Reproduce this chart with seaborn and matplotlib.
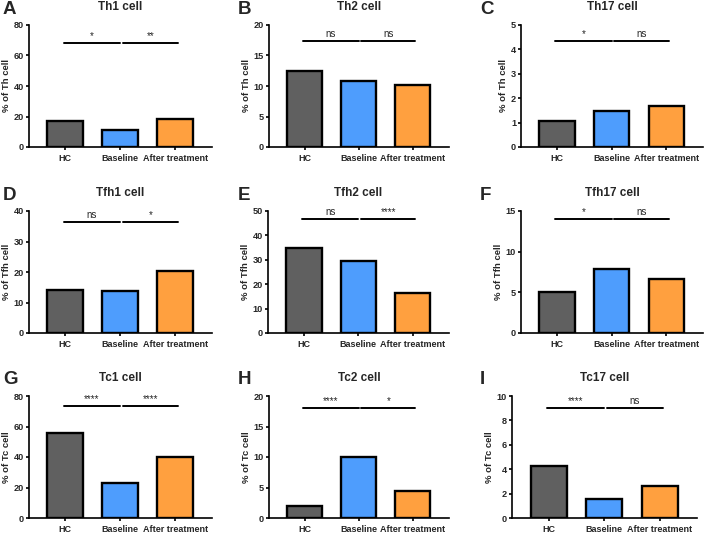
import matplotlib
matplotlib.use("Agg")
import matplotlib.pyplot as plt
import seaborn as sns
import pandas as pd

sns.set_theme(style="ticks")
plt.rcParams['font.family'] = ['Liberation Sans', 'DejaVu Sans']

categories = ["HC", "Baseline", "After treatment"]
colors = ["#606060", "#4e9dfd", "#ffa03f"]

titles = ["Th1 cell", "Th2 cell", "Th17 cell",
          "Tfh1 cell", "Tfh2 cell", "Tfh17 cell",
          "Tc1 cell", "Tc2 cell", "Tc17 cell"]
letters = ["A", "B", "C", "D", "E", "F", "G", "H", "I"]
ylabels = ["% of Th cell"] * 3 + ["% of Tfh cell"] * 3 + ["% of Tc cell"] * 3

th1 = [16.8, 11.3, 18.1]
th2 = [12.5, 10.8, 10.1]
th17 = [1.05, 1.47, 1.70]
tfh1 = [14.1, 13.9, 20.3]
tfh2 = [34.8, 29.6, 16.3]
tfh17 = [5.0, 7.9, 6.65]
tc1 = [55.8, 22.8, 39.8]
tc2 = [2.0, 10.0, 4.35]
tc17 = [4.28, 1.52, 2.63]
values = [th1, th2, th17, tfh1, tfh2, tfh17, tc1, tc2, tc17]

ymax = [80, 20, 5, 40, 50, 15, 80, 20, 10]
ystep = [20, 5, 1, 10, 10, 5, 20, 5, 2]

sig_left = ["*", "ns", "*", "ns", "ns", "*", "****", "****", "****"]
sig_right = ["**", "ns", "ns", "*", "****", "ns", "****", "*", "ns"]
sig_y = [68.4, 17.4, 4.34, 36.5, 46.8, 14.06, 73.5, 18.1, 9.05]

W, H = 708, 533
fig = plt.figure(figsize=(W / 100, H / 100), dpi=100)

rows = [(25, 147), (211, 333), (396, 518)]
cols = [[(29, 212), (269, 449), (521, 703)],
        [(29, 212), (268, 449), (521, 703)],
        [(29, 212), (269, 449), (512, 697)]]
letter_x = [3, 238, 480]

for i in range(9):
    r, c = divmod(i, 3)
    top, bot = rows[r]
    left, right = cols[r][c]
    ax = fig.add_axes([left / W, 1 - bot / H, (right - left) / W, (bot - top) / H])
    df = pd.DataFrame({"group": categories, "value": values[i]})
    sns.barplot(data=df, x="group", y="value", hue="group", order=categories,
                hue_order=categories, palette=colors, width=0.65, saturation=1,
                edgecolor="black", linewidth=1.7, legend=False, ax=ax)
    ax.set_xlim(-0.66, 2.67)
    ax.set_ylim(0, ymax[i])
    ax.set_yticks(list(range(0, ymax[i] + 1, ystep[i])))
    ax.set_xlabel("")
    ax.set_ylabel(ylabels[i], fontsize=6.8, fontweight="bold", labelpad=2)
    for sp in ["top", "right"]:
        ax.spines[sp].set_visible(False)
    for sp in ["left", "bottom"]:
        ax.spines[sp].set_linewidth(1.2)
        ax.spines[sp].set_color("black")
    ax.tick_params(axis="y", length=2.5, width=1.2, color="black",
                   labelsize=6.6, pad=1)
    ax.tick_params(axis="x", length=2.5, width=1.2, color="black",
                   labelsize=6.5, pad=2.5)
    for lab in ax.get_xticklabels() + ax.get_yticklabels():
        lab.set_fontweight("bold")
    ax.set_title(titles[i], fontsize=8.5, fontweight="bold", pad=11)
    # significance bars
    y = sig_y[i]
    ax.plot([-0.03, 1.0], [y, y], color="black", lw=1.4, clip_on=False)
    ax.plot([1.05, 2.05], [y, y], color="black", lw=1.4, clip_on=False)
    off = ymax[i] * 0.015
    ax.text(0.485, y + off, sig_left[i], ha="center", va="bottom", fontsize=7)
    ax.text(1.55, y + off, sig_right[i], ha="center", va="bottom", fontsize=7)
    # panel letter
    fig.text(letter_x[c] / W, 1 - (top - 16) / H, letters[i], fontsize=13.5,
             fontweight="bold", ha="left", va="center")

fig.savefig("out.png", dpi=100)
